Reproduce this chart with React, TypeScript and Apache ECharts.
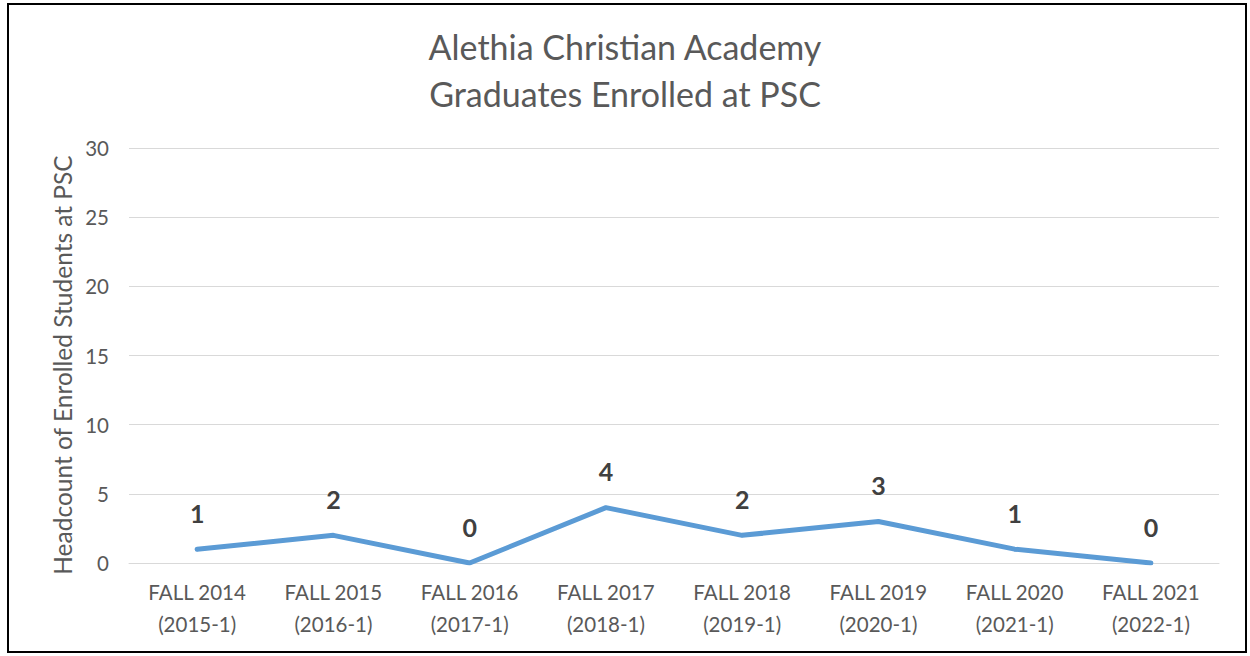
import React, { useEffect, useRef } from "react";
import * as echarts from "echarts";

const categories = [
  "FALL 2014\n(2015-1)",
  "FALL 2015\n(2016-1)",
  "FALL 2016\n(2017-1)",
  "FALL 2017\n(2018-1)",
  "FALL 2018\n(2019-1)",
  "FALL 2019\n(2020-1)",
  "FALL 2020\n(2021-1)",
  "FALL 2021\n(2022-1)",
];
const headcount = [1, 2, 0, 4, 2, 3, 1, 0];
const titleText = "Alethia Christian Academy\nGraduates Enrolled at PSC";
const yAxisName = "Headcount of Enrolled Students at PSC";

const FONT = "Lato, 'Open Sans', sans-serif";

export default function App() {
  const ref = useRef<HTMLDivElement>(null);
  useEffect(() => {
    if (!ref.current) return;
    const chart = echarts.init(ref.current, null, { renderer: "svg" });
    chart.setOption({
      animation: false,
      backgroundColor: "#ffffff",
      title: {
        text: titleText,
        left: "center",
        top: 18,
        textStyle: {
          fontFamily: FONT,
          fontSize: 34,
          fontWeight: "normal",
          color: "#595959",
          lineHeight: 47,
        },
      },
      graphic: [
        {
          type: "rect",
          shape: { x: 8, y: 4, width: 1238, height: 648 },
          style: { fill: "none", stroke: "#000000", lineWidth: 2 },
          silent: true,
        },
        {
          type: "text",
          x: 62,
          y: 365,
          rotation: Math.PI / 2,
          silent: true,
          style: {
            text: yAxisName,
            fontFamily: FONT,
            fontSize: 24.5,
            fill: "#595959",
            align: "center",
            verticalAlign: "middle",
          },
        },
      ],
      grid: { left: 129, right: 31, top: 148, bottom: 93, containLabel: false },
      xAxis: {
        type: "category",
        data: categories,
        boundaryGap: true,
        axisLine: { show: true, lineStyle: { color: "#d9d9d9", width: 1 } },
        axisTick: { show: false },
        axisLabel: {
          fontFamily: FONT,
          fontSize: 20.5,
          color: "#595959",
          lineHeight: 32,
          margin: 13,
          interval: 0,
        },
      },
      yAxis: {
        type: "value",
        min: 0,
        max: 30,
        interval: 5,
        axisLine: { show: false },
        axisTick: { show: false },
        splitLine: { lineStyle: { color: "#d9d9d9", width: 1 } },
        axisLabel: { fontFamily: FONT, fontSize: 20.5, color: "#595959", margin: 20 },
      },
      series: [
        {
          type: "line",
          data: headcount,
          symbol: "circle",
          symbolSize: 4,
          showSymbol: true,
          itemStyle: { color: "#5b9bd5" },
          lineStyle: { color: "#5b9bd5", width: 5, cap: "round", join: "round" },
          label: {
            show: true,
            position: "top",
            distance: 22,
            fontFamily: FONT,
            fontSize: 25,
            fontWeight: "bold",
            color: "#404040",
          },
        },
      ],
    });
    return () => chart.dispose();
  }, []);
  return (
    <div
      ref={ref}
      style={{ position: "fixed", left: 0, top: 0, width: 1250, height: 656, background: "#fff" }}
    />
  );
}
